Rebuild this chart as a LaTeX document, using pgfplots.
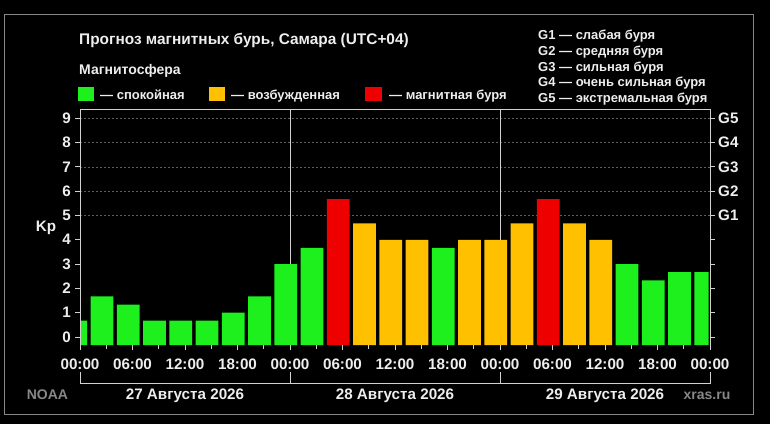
\documentclass[border=0pt]{standalone}
\usepackage{pgfplots}
\pgfplotsset{compat=1.18}
\usepackage{fontspec}
\setmainfont{Liberation Sans}

\definecolor{kpgreen}{RGB}{30,240,30}
\definecolor{kpyellow}{RGB}{255,192,0}
\definecolor{kpred}{RGB}{238,0,0}
\definecolor{framec}{RGB}{210,210,210}
\definecolor{gridc}{RGB}{95,95,95}
\definecolor{txt}{RGB}{238,238,238}
\definecolor{dimtxt}{RGB}{135,135,135}

\newcommand\fstitle{\bfseries\fontsize{15.4}{17}\selectfont}
\newcommand\fsbig{\bfseries\fontsize{15.2}{17}\selectfont}
\newcommand\fsmid{\bfseries\fontsize{14}{16}\selectfont}
\newcommand\fssmall{\bfseries\fontsize{13}{15}\selectfont}

\begin{document}
\begin{tikzpicture}[x=1pt,y=1pt,lab/.style={inner sep=0pt,text=txt}]
\fill[black] (0,0) rectangle (770,424);
\useasboundingbox (0,0) rectangle (770,424);
\draw[dimtxt, line width=1pt] (4.7,10) rectangle (753,409);

% header
\node[lab, anchor=base west, font=\fstitle] at (79,379) {Прогноз магнитных бурь, Самара (UTC+04)};
\node[lab, anchor=base west, font=\fsmid] at (79,349) {Магнитосфера};
\fill[kpgreen]  (78,323) rectangle (94,337);
\node[lab, anchor=base west, font=\fssmall] at (100,325) {— спокойная};
\fill[kpyellow] (209,323) rectangle (225,337);
\node[lab, anchor=base west, font=\fssmall] at (231,325) {— возбужденная};
\fill[kpred]    (365,323) rectangle (382,337);
\node[lab, anchor=base west, font=\fssmall] at (389,325) {— магнитная буря};

\node[lab, anchor=base west, font=\fssmall] at (538,384.3) {G1 — слабая буря};
\node[lab, anchor=base west, font=\fssmall] at (538,368.5) {G2 — средняя буря};
\node[lab, anchor=base west, font=\fssmall] at (538,352.7) {G3 — сильная буря};
\node[lab, anchor=base west, font=\fssmall] at (538,337.1) {G4 — очень сильная буря};
\node[lab, anchor=base west, font=\fssmall] at (538,321.7) {G5 — экстремальная буря};

\begin{axis}[
  at={(80pt,79pt)}, anchor=south west,
  scale only axis, width=630pt, height=236pt,
  xmin=0, xmax=72, ymin=-0.33, ymax=9.38,
  clip=false,
  axis line style={draw=none},
  tick align=outside,
  xtick pos=left, ytick pos=left,
  xtick={0,6,...,72},
  xticklabels={00:00,06:00,12:00,18:00,00:00,06:00,12:00,18:00,00:00,06:00,12:00,18:00,00:00},
  minor xtick={3,9,...,69},
  ytick={0,...,9},
  major tick length=5pt, minor tick length=3.5pt,
  tick style={framec, line width=0.8pt},
  tick label style={font=\fsbig, text=txt, inner sep=0pt},
  xticklabel style={anchor=base, yshift=-19pt},
  yticklabel style={anchor=east, xshift=-4pt},
  /pgf/number format/assume math mode=true,
  ylabel={Kp},
  every axis y label/.style={at={(axis description cs:-0.054,0.496)}, anchor=center, font=\fsbig, text=txt},
]
\pgfplotsinvokeforeach{5,...,9}{
  \draw[gridc, dash pattern=on 2pt off 2pt, line width=0.6pt] (axis cs:0,#1) -- (axis cs:72,#1);
}
\draw[framec, line width=0.8pt] (axis cs:24,-0.33) -- (axis cs:24,9.38);
\draw[framec, line width=0.8pt] (axis cs:48,-0.33) -- (axis cs:48,9.38);

% quiet
\addplot[fill=kpgreen, draw=none, unbounded coords=jump] coordinates {
 (0.08,-0.33) (0.08,0.67) (0.82,0.67) (0.82,-0.33) (nan,nan)
 (1.2,-0.33) (1.2,1.67) (3.8,1.67) (3.8,-0.33) (nan,nan)
 (4.2,-0.33) (4.2,1.33) (6.8,1.33) (6.8,-0.33) (nan,nan)
 (7.2,-0.33) (7.2,0.67) (9.8,0.67) (9.8,-0.33) (nan,nan)
 (10.2,-0.33) (10.2,0.67) (12.8,0.67) (12.8,-0.33) (nan,nan)
 (13.2,-0.33) (13.2,0.67) (15.8,0.67) (15.8,-0.33) (nan,nan)
 (16.2,-0.33) (16.2,1.0) (18.8,1.0) (18.8,-0.33) (nan,nan)
 (19.2,-0.33) (19.2,1.67) (21.8,1.67) (21.8,-0.33) (nan,nan)
 (22.2,-0.33) (22.2,3.0) (24.8,3.0) (24.8,-0.33) (nan,nan)
 (25.2,-0.33) (25.2,3.67) (27.8,3.67) (27.8,-0.33) (nan,nan)
 (40.2,-0.33) (40.2,3.67) (42.8,3.67) (42.8,-0.33) (nan,nan)
 (61.2,-0.33) (61.2,3.0) (63.8,3.0) (63.8,-0.33) (nan,nan)
 (64.2,-0.33) (64.2,2.33) (66.8,2.33) (66.8,-0.33) (nan,nan)
 (67.2,-0.33) (67.2,2.67) (69.8,2.67) (69.8,-0.33) (nan,nan)
 (70.2,-0.33) (70.2,2.67) (71.85,2.67) (71.85,-0.33)
};
% unsettled
\addplot[fill=kpyellow, draw=none, unbounded coords=jump] coordinates {
 (31.2,-0.33) (31.2,4.67) (33.8,4.67) (33.8,-0.33) (nan,nan)
 (34.2,-0.33) (34.2,4.0) (36.8,4.0) (36.8,-0.33) (nan,nan)
 (37.2,-0.33) (37.2,4.0) (39.8,4.0) (39.8,-0.33) (nan,nan)
 (43.2,-0.33) (43.2,4.0) (45.8,4.0) (45.8,-0.33) (nan,nan)
 (46.2,-0.33) (46.2,4.0) (48.8,4.0) (48.8,-0.33) (nan,nan)
 (49.2,-0.33) (49.2,4.67) (51.8,4.67) (51.8,-0.33) (nan,nan)
 (55.2,-0.33) (55.2,4.67) (57.8,4.67) (57.8,-0.33) (nan,nan)
 (58.2,-0.33) (58.2,4.0) (60.8,4.0) (60.8,-0.33)
};
% storm
\addplot[fill=kpred, draw=none, unbounded coords=jump] coordinates {
 (28.2,-0.33) (28.2,5.67) (30.8,5.67) (30.8,-0.33) (nan,nan)
 (52.2,-0.33) (52.2,5.67) (54.8,5.67) (54.8,-0.33)
};

\draw[framec, line width=1pt] (axis cs:0,-0.33) -- (axis cs:0,9.38) -- (axis cs:72,9.38) -- (axis cs:72,-0.33);
\end{axis}

% G scale on the right
\begin{axis}[
  at={(80pt,79pt)}, anchor=south west,
  scale only axis, width=630pt, height=236pt,
  xmin=0, xmax=72, ymin=-0.33, ymax=9.38,
  axis x line=none, axis y line*=right,
  axis line style={draw=none},
  tick align=outside,
  ytick={0,...,9},
  yticklabels={,,,,,G1,G2,G3,G4,G5},
  major tick length=5pt,
  tick style={framec, line width=0.8pt},
  yticklabel style={font=\fsbig, text=txt, inner sep=0pt, anchor=west, xshift=3pt},
]
\end{axis}

% day brackets
\draw[framec, line width=1pt] (80,52) -- (80,41) -- (710,41) -- (710,52);
\draw[framec, line width=1pt] (290,41) -- (290,52);
\draw[framec, line width=1pt] (500,41) -- (500,52);
\node[lab, anchor=base, font=\fsbig] at (185,25) {27 Августа 2026};
\node[lab, anchor=base, font=\fsbig] at (395,25) {28 Августа 2026};
\node[lab, anchor=base, font=\fsbig] at (605,25) {29 Августа 2026};
\node[lab, anchor=base, font=\fsmid, text=dimtxt] at (47.5,25) {NOAA};
\node[lab, anchor=base, font=\fsmid, text=dimtxt] at (707,25) {xras.ru};
\end{tikzpicture}
\end{document}
